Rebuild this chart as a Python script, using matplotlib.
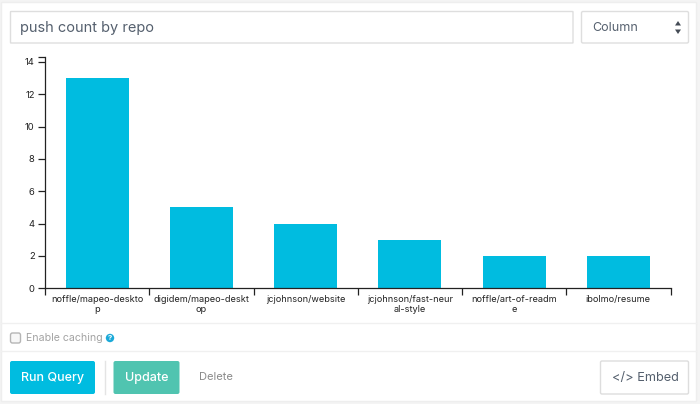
import matplotlib
matplotlib.use("Agg")
import matplotlib.pyplot as plt
from matplotlib.patches import Rectangle, FancyBboxPatch, Circle, Polygon

plt.rcParams['font.family'] = ['Inter', 'DejaVu Sans']

repos = ["noffle/mapeo-deskto\np", "digidem/mapeo-deskt\nop", "jcjohnson/website",
         "jcjohnson/fast-neur\nal-style", "noffle/art-of-readm\ne", "ibolmo/resume"]
push_counts = [13, 5, 4, 3, 2, 2]
y_ticks = [0, 2, 4, 6, 8, 10, 12, 14]
title = "push count by repo"
chart_type = "Column"

W, H = 700, 404
fig = plt.figure(figsize=(W/100, H/100), dpi=100, facecolor="#f4f4f4")

# page chrome, in pixel coordinates
ui = fig.add_axes([0, 0, 1, 1], zorder=0)
ui.set_xlim(0, W); ui.set_ylim(H, 0); ui.axis("off")

def box(x, y, w, h, fc="white", ec="#dddddd", lw=1.0, r=1.5, z=1):
    ui.add_patch(FancyBboxPatch((x, y), w, h, boxstyle=f"round,pad=0,rounding_size={r}",
                                fc=fc, ec=ec, lw=lw, zorder=z))

ui.add_patch(Rectangle((1, 2), 695, 399, fc="white", ec="#eeeeee", lw=1, zorder=0.5))
box(10.5, 11.5, 562.5, 31.5, ec="#dedede", r=0.5)
box(581.5, 11.5, 107, 31.5, ec="#dedede")
ui.text(19.5, 28, title, fontsize=10.5, color="#55606e", va="center", ha="left")
ui.text(592.5, 28, chart_type, fontsize=9, color="#55606e", va="center", ha="left")
ui.add_patch(Polygon([[675, 25.5], [681, 25.5], [678, 21]], fc="#444b55", ec="none", zorder=2))
ui.add_patch(Polygon([[675, 29.5], [681, 29.5], [678, 34]], fc="#444b55", ec="none", zorder=2))

ui.plot([1, 696], [323, 323], color="#f0f0f0", lw=1, zorder=1)
ui.plot([1, 696], [351, 351], color="#f0f0f0", lw=1, zorder=1)

box(10.5, 333, 10, 10, fc="#f7f7f7", ec="#b5b5b5", r=2)
ui.text(25.5, 338, "Enable caching", fontsize=7.6, color="#a3a3a3", va="center", ha="left")
ui.add_patch(Circle((110, 338), 4.2, fc="#1ba9d8", ec="none", zorder=2))
ui.text(110, 338, "?", fontsize=5.5, color="white", va="center", ha="center",
        fontweight="bold", zorder=3)

box(10, 361, 85, 33, fc="#00bce0", ec="none", lw=0, r=2)
ui.text(52.5, 377.5, "Run Query", fontsize=9, color="white", va="center", ha="center", fontweight="medium", zorder=3)
ui.plot([104.5, 104.5], [361, 394], color="#e4e4e4", lw=1, zorder=1)
box(113.5, 361, 66, 33, fc="#50c4b0", ec="none", lw=0, r=2)
ui.text(146.5, 377.5, "Update", fontsize=9, color="white", va="center", ha="center", fontweight="medium", zorder=3)
ui.text(216, 377.5, "Delete", fontsize=8, color="#8a8a8a", va="center", ha="center", zorder=3)
box(600.5, 361, 88, 33, ec="#dddddd")
ui.text(645, 377.5, "</> Embed", fontsize=9.2, color="#55606e", va="center", ha="center", zorder=3)

# chart
left, right, top, bottom = 45, 670.5, 57, 288.3
y_top = 14.3
ax = fig.add_axes([left/W, 1-bottom/H, (right-left)/W, (bottom-top)/H], zorder=2)
ax.patch.set_alpha(0)
positions = [i + 0.5 for i in range(len(repos))]
ax.bar(positions, push_counts, width=0.604, color="#00bce0", linewidth=0)
ax.set_xlim(0, len(repos))
ax.set_ylim(0, y_top)
for s in ("top", "right"):
    ax.spines[s].set_visible(False)
for s in ("left", "bottom"):
    ax.spines[s].set_color("#222222")
    ax.spines[s].set_linewidth(0.9)
ax.set_yticks(y_ticks)
ax.set_yticks([y_top], minor=True)
ax.tick_params(axis="y", which="both", length=5, width=0.9, color="#222222", labelsize=6.8, labelcolor="#222222", pad=2.5)
ax.set_xticks(range(len(repos) + 1))
ax.set_xticklabels([])
ax.tick_params(axis="x", which="major", length=5, width=0.9, color="#222222")
ax.set_xticks(positions, minor=True)
ax.set_xticklabels(repos, minor=True, fontsize=6.6, color="#222222", linespacing=1.1)
ax.tick_params(axis="x", which="minor", length=0, pad=5)

fig.savefig("out.png", dpi=100, facecolor=fig.get_facecolor())
